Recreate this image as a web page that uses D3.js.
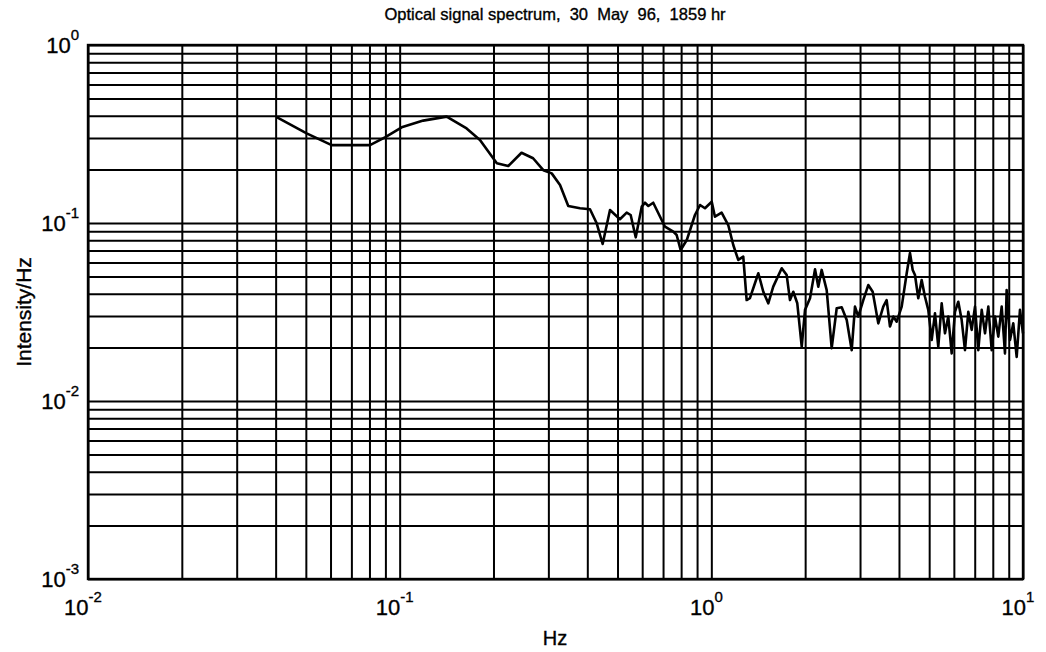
<!DOCTYPE html>
<html>
<head>
<meta charset="utf-8">
<script src="https://cdn.jsdelivr.net/npm/d3@7/dist/d3.min.js"></script>
<style>
  html, body { margin: 0; padding: 0; background: #fff; }
  svg { display: block; font-family: "Liberation Sans", Arial, sans-serif; }
  .lbl { fill: #000; stroke: #000; stroke-width: 0.35px; }
</style>
</head>
<body>
<svg id="chart" width="1046" height="652"></svg>
<script>
// Power spectrum of the optical signal (frequency in Hz, intensity per Hz)
const freqHz = [
  0.0403, 0.0503, 0.0605, 0.0803, 0.0897, 0.1015, 0.119, 0.1415, 0.164, 0.181,
  0.205, 0.223, 0.246, 0.268, 0.289, 0.3075, 0.327, 0.3475, 0.379, 0.408,
  0.4287, 0.448, 0.473, 0.509, 0.535, 0.551, 0.572, 0.598, 0.6125, 0.628,
  0.651, 0.710, 0.755, 0.774, 0.797, 0.834, 0.886, 0.920, 0.954, 1.003,
  1.027, 1.079, 1.133, 1.176, 1.220, 1.266, 1.298, 1.330, 1.415, 1.468,
  1.523, 1.580, 1.682, 1.745, 1.788, 1.832, 1.887, 1.950, 1.998, 2.073,
  2.151, 2.204, 2.259, 2.345, 2.433, 2.525, 2.620, 2.719, 2.821, 2.890,
  2.961, 3.073, 3.188, 3.294, 3.433, 3.562, 3.652, 3.743, 3.836, 3.933,
  4.081, 4.235, 4.339, 4.427, 4.502, 4.613, 4.730, 4.847, 4.967, 5.093,
  5.219, 5.348, 5.484, 5.619, 5.758, 5.904, 6.050, 6.200, 6.357, 6.514,
  6.675, 6.845, 7.015, 7.188, 7.371, 7.553, 7.740, 7.935, 8.131, 8.332,
  8.543, 8.754, 8.862, 9.084, 9.307, 9.544, 9.779, 10.0
];
const intensity = [
  0.393, 0.319, 0.274, 0.274, 0.303, 0.345, 0.376, 0.396, 0.340, 0.293,
  0.2165, 0.209, 0.248, 0.231, 0.198, 0.190, 0.1635, 0.1246, 0.121, 0.1194,
  0.0996, 0.0762, 0.1183, 0.105, 0.1143, 0.1109, 0.0831, 0.1235, 0.130, 0.1246,
  0.130, 0.0953, 0.0894, 0.0856, 0.0705, 0.0802, 0.1109, 0.1262, 0.121, 0.1317,
  0.1085, 0.1143, 0.0974, 0.0752, 0.0620, 0.0647, 0.0369, 0.0378, 0.0522, 0.0411,
  0.0354, 0.0439, 0.0557, 0.0510, 0.0369, 0.0411, 0.0354, 0.0202, 0.0325, 0.0378,
  0.0549, 0.0439, 0.0545, 0.0420, 0.0198, 0.0332, 0.0336, 0.0285, 0.0193, 0.0339,
  0.0298, 0.0369, 0.0448, 0.0411, 0.0273, 0.0339, 0.0369, 0.0262, 0.0298, 0.0279,
  0.0339, 0.0522, 0.0678, 0.0545, 0.0510, 0.0378, 0.0478, 0.0385, 0.0325, 0.0220,
  0.0311, 0.0202, 0.0354, 0.0240, 0.0298, 0.0185, 0.0317, 0.0361, 0.0285, 0.0193,
  0.0317, 0.0251, 0.0339, 0.0193, 0.0325, 0.0240, 0.0339, 0.0193, 0.0298, 0.0230,
  0.0339, 0.0185, 0.0420, 0.0220, 0.0273, 0.0177, 0.0325, 0.0240
];

// Decade tick labels
const xTickValues = [0.01, 0.1, 1, 10];
const xTickExponents = ["-2", "-1", "0", "1"];
const yTickValues = [0.001, 0.01, 0.1, 1];
const yTickExponents = ["-3", "-2", "-1", "0"];

const titleText = "Optical signal spectrum,  30  May  96,  1859 hr";
const xLabel = "Hz";
const yLabel = "Intensity/Hz";

const margin = { left: 88, top: 45, right: 23, bottom: 73 };
const W = 1046, H = 652;
const innerW = W - margin.left - margin.right;
const innerH = H - margin.top - margin.bottom;

const svg = d3.select("#chart");
const g = svg.append("g").attr("transform", `translate(${margin.left},${margin.top})`);

const x = d3.scaleLog().domain([0.01, 10]).range([0, innerW]);
const y = d3.scaleLog().domain([0.001, 1]).range([innerH, 0]);

// Grid lines at 1..9 of every decade
const gridX = [];
[0.01, 0.1, 1].forEach(d => { for (let k = 1; k <= 9; k++) gridX.push(d * k); });
gridX.push(10);
const gridY = [];
[0.001, 0.01, 0.1].forEach(d => { for (let k = 1; k <= 9; k++) gridY.push(d * k); });
gridY.push(1);

const gridStyle = sel => {
  sel.select(".domain").remove();
  sel.selectAll(".tick line").attr("stroke", "#000").attr("stroke-width", 2);
  sel.selectAll(".tick text").remove();
};

g.append("g")
  .attr("transform", `translate(0,${innerH})`)
  .call(d3.axisBottom(x).tickValues(gridX).tickSize(-innerH).tickFormat(""))
  .call(gridStyle);

g.append("g")
  .call(d3.axisLeft(y).tickValues(gridY).tickSize(-innerW).tickFormat(""))
  .call(gridStyle);

// Frame
g.append("rect")
  .attr("x", 0).attr("y", 0)
  .attr("width", innerW).attr("height", innerH)
  .attr("fill", "none").attr("stroke", "#000").attr("stroke-width", 2.4);

// Spectrum trace
const pts = freqHz.map((f, i) => [f, intensity[i]]);
g.append("path")
  .datum(pts)
  .attr("fill", "none")
  .attr("stroke", "#000")
  .attr("stroke-width", 2.6)
  .attr("stroke-linejoin", "round")
  .attr("d", d3.line().x(d => x(d[0])).y(d => y(d[1])));

// X decade labels
xTickValues.forEach((v, i) => {
  const t = g.append("text")
    .attr("class", "lbl")
    .attr("x", x(v) - 5)
    .attr("y", innerH + 36)
    .attr("text-anchor", "middle")
    .attr("font-size", 22);
  t.append("tspan").text("10");
  t.append("tspan").attr("dy", -13).attr("font-size", 15).text(xTickExponents[i]);
});

// Y decade labels
yTickValues.forEach((v, i) => {
  const t = g.append("text")
    .attr("class", "lbl")
    .attr("x", -9)
    .attr("y", y(v) + 8)
    .attr("text-anchor", "end")
    .attr("font-size", 22);
  t.append("tspan").text("10");
  t.append("tspan").attr("dy", -13).attr("font-size", 15).text(yTickExponents[i]);
});

// Title and axis labels
svg.append("text")
  .attr("class", "lbl")
  .attr("x", 555).attr("y", 20)
  .attr("text-anchor", "middle")
  .attr("font-size", 16.5)
  .style("white-space", "pre")
  .text(titleText);

svg.append("text")
  .attr("class", "lbl")
  .attr("x", 555).attr("y", 645)
  .attr("text-anchor", "middle")
  .attr("font-size", 20)
  .text(xLabel);

svg.append("text")
  .attr("class", "lbl")
  .attr("transform", `translate(31,${margin.top + innerH / 2}) rotate(-90)`)
  .attr("text-anchor", "middle")
  .attr("font-size", 21)
  .text(yLabel);
</script>
</body>
</html>
